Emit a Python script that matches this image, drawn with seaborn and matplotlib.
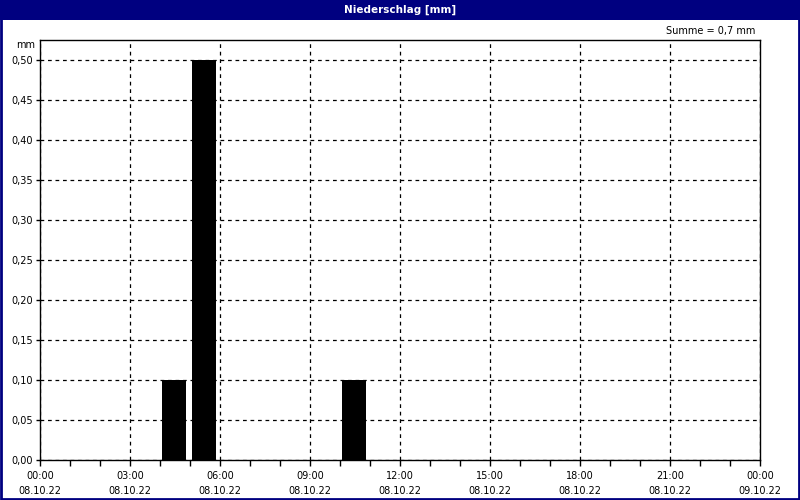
import matplotlib
matplotlib.use("Agg")
import matplotlib.pyplot as plt
from matplotlib.patches import Rectangle
from matplotlib.ticker import MultipleLocator, FuncFormatter
import seaborn as sns
import pandas as pd

# Data: hourly precipitation on 08.10.22 (hour start, mm)
hours = [4, 5, 10]
precip = [0.1, 0.5, 0.1]
tick_hours = [0, 3, 6, 9, 12, 15, 18, 21, 24]
tick_times = ["00:00", "03:00", "06:00", "09:00", "12:00", "15:00", "18:00", "21:00", "00:00"]
tick_dates = ["08.10.22"] * 8 + ["09.10.22"]
title = "Niederschlag [mm]"
total_text = "Summe = 0,7 mm"

navy = "#000080"

sns.set_style("white")
plt.rcParams["font.family"] = ["DejaVu Sans"]
plt.rcParams["text.color"] = "black"
plt.rcParams["xtick.color"] = "black"
plt.rcParams["ytick.color"] = "black"
plt.rcParams["xtick.direction"] = "out"
plt.rcParams["ytick.direction"] = "out"

df = pd.DataFrame({"hour": hours, "mm": precip})

fig = plt.figure(figsize=(8, 5), dpi=100, facecolor="white")
ax = fig.add_axes([0.05, 0.08, 0.90, 0.84])

# bars occupy most of each hour interval
ax.bar(df["hour"] + 0.05, df["mm"], width=0.82, align="edge",
       color="black", edgecolor="none", zorder=3)

ax.set_xlim(0, 24)
ax.set_ylim(0, 0.525)
ax.xaxis.set_minor_locator(MultipleLocator(1))
ax.set_xticks(tick_hours)
ax.set_xticklabels([f"{t}\n{d}" for t, d in zip(tick_times, tick_dates)],
                   fontsize=7, linespacing=1.6)
ax.set_yticks([i * 0.05 for i in range(11)])
ax.yaxis.set_major_formatter(FuncFormatter(lambda v, p: f"{v:.2f}".replace(".", ",")))
ax.tick_params(axis="y", labelsize=7, length=3, width=1, direction="out", pad=2, left=True)
ax.tick_params(axis="x", which="both", length=4, width=1, direction="out", pad=4, bottom=True)

ax.grid(True, which="major", color="black", linestyle=(0, (3, 3)), linewidth=0.9, zorder=1)
for side in ["top", "right", "bottom", "left"]:
    ax.spines[side].set_color("black")
    ax.spines[side].set_linewidth(1)
ax.set_facecolor("white")
ax.set_xlabel("")
ax.set_ylabel("")

# title bar and frame
fig.patches.append(Rectangle((0, 0.96), 1, 0.04, transform=fig.transFigure,
                             facecolor=navy, edgecolor="none", zorder=0))
fig.patches.append(Rectangle((0.001, 0.002), 0.998, 0.996, transform=fig.transFigure,
                             facecolor="none", edgecolor=navy, linewidth=2, zorder=5))
fig.text(0.5, 0.98, title, color="white", fontsize=7.5, fontweight="bold",
         ha="center", va="center")
fig.text(0.944, 0.938, total_text, fontsize=7, ha="right", va="center")
fig.text(0.044, 0.91, "mm", fontsize=7, ha="right", va="center")

fig.savefig("out.png", dpi=100, facecolor="white")
